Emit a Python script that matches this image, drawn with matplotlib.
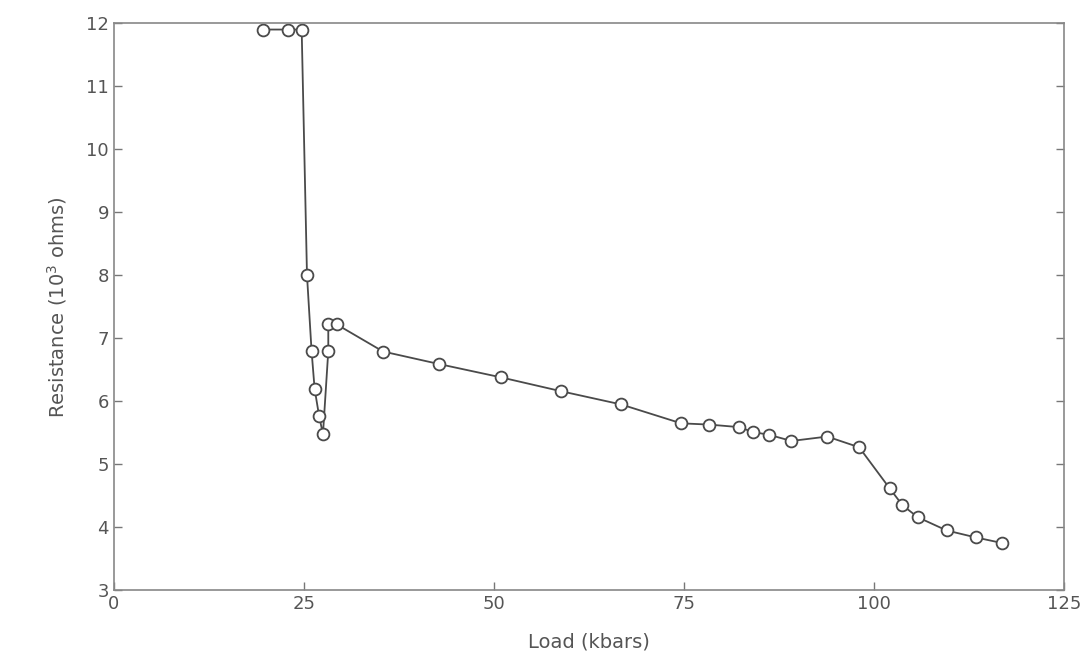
import matplotlib
matplotlib.use("Agg")
import matplotlib.pyplot as plt

# Resistance vs load
load_kbar = [19.6, 22.9, 24.7, 25.4, 26.0, 26.4, 27.0, 27.5, 28.2, 28.2,
             29.3, 35.4, 42.8, 50.9, 58.8, 66.7, 74.6, 78.3, 82.2, 84.1,
             86.1, 89.1, 93.8, 98.0, 102.0, 103.7, 105.7, 109.5, 113.3, 116.8]
resistance = [11.9, 11.9, 11.9, 8.0, 6.8, 6.2, 5.76, 5.48, 6.8, 7.22,
              7.22, 6.79, 6.59, 6.38, 6.16, 5.95, 5.65, 5.63, 5.59, 5.51,
              5.47, 5.37, 5.44, 5.27, 4.62, 4.35, 4.16, 3.95, 3.84, 3.75]

x_ticks = [0, 25, 50, 75, 100, 125]
y_ticks = [3, 4, 5, 6, 7, 8, 9, 10, 11, 12]

ink = "#4a4a4a"
text_ink = "#555555"

fig = plt.figure(figsize=(10.84, 6.64), dpi=100)
ax = fig.add_axes([0.105, 0.111, 0.877, 0.854])

ax.plot(load_kbar, resistance, color=ink, lw=1.3, marker="o", ms=8.5,
        mfc="white", mec=ink, mew=1.3)

ax.set_xlim(0, 125)
ax.set_ylim(3, 12)
ax.set_xticks(x_ticks)
ax.set_yticks(y_ticks)
ax.tick_params(direction="in", length=6, width=1, colors="#777777",
               labelcolor=text_ink, labelsize=13, right=True)
for s in ax.spines.values():
    s.set_color("#888888")
    s.set_linewidth(1.2)

ax.set_xlabel("Load (kbars)", fontsize=14, color=text_ink, labelpad=14)
ax.set_ylabel("Resistance (10$^3$ ohms)", fontsize=14, color=text_ink,
              labelpad=12)

fig.savefig("out.png", dpi=100)
